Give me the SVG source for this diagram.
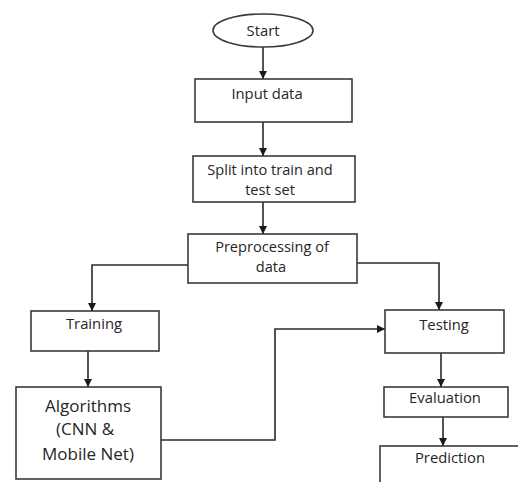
<svg xmlns="http://www.w3.org/2000/svg" width="518" height="482" viewBox="0 0 518 482">
<defs>
<style>
.box{fill:#fff;stroke:#3a3a3a;stroke-width:1.6}
.ln{fill:none;stroke:#2a2a2a;stroke-width:1.6}
text{font-family:"Open Sans","Liberation Sans",sans-serif;fill:#262626;text-anchor:middle;font-size:14.8px}
.two{font-size:14.6px}
.big{font-size:17px}
</style>
<marker id="ah" viewBox="0 0 10 10" refX="10" refY="5" markerWidth="8" markerHeight="8" markerUnits="userSpaceOnUse" orient="auto">
<path d="M0,0 L10,5 L0,10 z" fill="#1a1a1a"/>
</marker>
</defs>
<rect width="518" height="482" fill="#fff"/>
<g id="connectors">
<path class="ln" d="M263,47 V79" marker-end="url(#ah)"/>
<path class="ln" d="M263,122 V156" marker-end="url(#ah)"/>
<path class="ln" d="M263,202 V234" marker-end="url(#ah)"/>
<path class="ln" d="M188,265 H92 V311" marker-end="url(#ah)"/>
<path class="ln" d="M357,263 H439 V310" marker-end="url(#ah)"/>
<path class="ln" d="M88,351 V387" marker-end="url(#ah)"/>
<path class="ln" d="M161,440 H275 V329 H385" marker-end="url(#ah)"/>
<path class="ln" d="M441,353 V387" marker-end="url(#ah)"/>
<path class="ln" d="M443,417 V446" marker-end="url(#ah)"/>
</g>
<g id="start">
<ellipse class="box" cx="263" cy="30.5" rx="50" ry="16.5"/>
<text x="263" y="36">Start</text>
</g>
<g id="input">
<rect class="box" x="195" y="79" width="157" height="43"/>
<text x="267" y="99">Input data</text>
</g>
<g id="split">
<rect class="box" x="193" y="156" width="162" height="46"/>
<text class="two" x="270" y="175">Split into train and</text>
<text class="two" x="270" y="195">test set</text>
</g>
<g id="preprocessing">
<rect class="box" x="188" y="234" width="169" height="49"/>
<text class="two" x="272" y="252">Preprocessing of</text>
<text class="two" x="271" y="272">data</text>
</g>
<g id="training">
<rect class="box" x="31" y="311" width="128" height="40"/>
<text x="94" y="329">Training</text>
</g>
<g id="algorithms">
<rect class="box" x="16" y="387" width="145" height="92"/>
<text class="big" x="88" y="412">Algorithms</text>
<text class="big" x="85" y="435">(CNN &amp;</text>
<text class="big" x="88" y="460">Mobile Net)</text>
</g>
<g id="testing">
<rect class="box" x="385" y="310" width="119" height="43"/>
<text x="444" y="330">Testing</text>
</g>
<g id="evaluation">
<rect class="box" x="384" y="387" width="124" height="30"/>
<text x="445" y="403">Evaluation</text>
</g>
<g id="prediction">
<rect class="box" x="380" y="446" width="150" height="50"/>
<text x="450" y="463">Prediction</text>
</g>
</svg>
